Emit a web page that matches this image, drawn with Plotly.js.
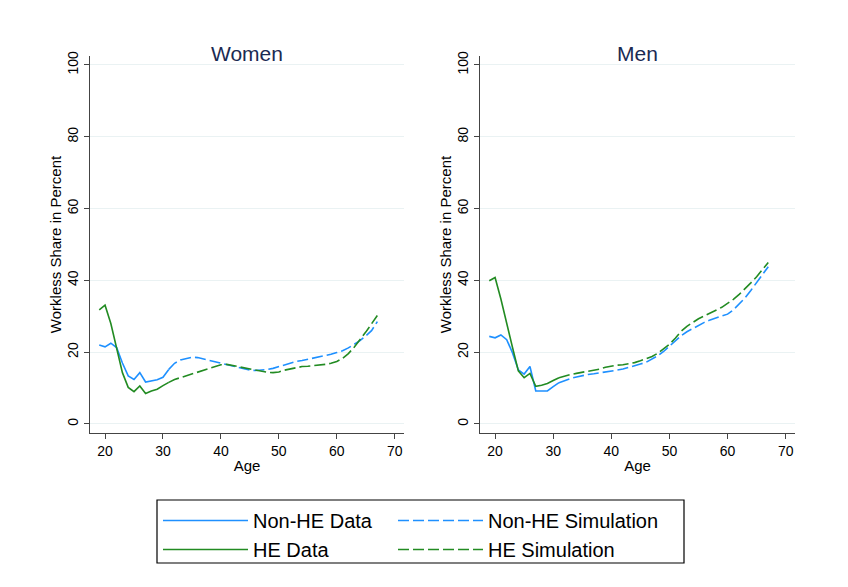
<!DOCTYPE html>
<html>
<head>
<meta charset="utf-8">
<script src="https://cdn.plot.ly/plotly-3.0.1.min.js"></script>
<style>
  html, body { margin: 0; padding: 0; background: #ffffff; }
  #chart { width: 848px; height: 587px; }
</style>
</head>
<body>
<div id="chart"></div>
<script>
// Ages covered by the observed data and by the model simulation
const ageData = [19, 20, 21, 22, 23, 24, 25, 26, 27, 28, 29, 30, 31];
const ageSim = [31, 32, 33, 34, 35, 36, 37, 38, 39, 40, 41, 42, 43, 44, 45, 46, 47, 48, 49,
                50, 51, 52, 53, 54, 55, 56, 57, 58, 59, 60, 61, 62, 63, 64, 65, 66, 67];

// Women: workless share in percent
const womenNonHEData = [22.0, 21.5, 22.5, 21.3, 17.0, 13.4, 12.4, 14.3, 11.7, 12.0, 12.3, 13.0, 15.2];
const womenHEData = [31.8, 33.1, 28.0, 21.5, 14.3, 10.2, 9.0, 10.6, 8.5, 9.2, 9.7, 10.7, 11.6];
const womenNonHESim = [15.2, 16.9, 17.8, 18.3, 18.6, 18.5, 18.1, 17.7, 17.4, 16.9, 16.6, 16.2, 15.8,
                       15.3, 15.0, 14.9, 15.0, 15.2, 15.5, 16.0, 16.5, 16.9, 17.4, 17.7, 18.0, 18.4,
                       18.8, 19.1, 19.4, 19.9, 20.4, 21.2, 22.1, 23.2, 24.5, 26.0, 28.5];
const womenHESim = [11.6, 12.4, 12.9, 13.4, 13.9, 14.6, 15.1, 15.6, 16.1, 16.5, 16.6, 16.3, 16.0,
                    15.6, 15.2, 14.9, 14.6, 14.4, 14.3, 14.5, 15.0, 15.4, 15.8, 16.0, 16.1, 16.2,
                    16.4, 16.6, 16.9, 17.4, 18.3, 19.6, 21.4, 23.4, 25.6, 27.9, 30.2];

// Men: workless share in percent
const menNonHEData = [24.4, 24.0, 24.8, 23.5, 19.8, 15.1, 13.9, 16.0, 9.2, 9.2, 9.2, 10.4, 11.5];
const menHEData = [39.9, 40.8, 34.8, 27.8, 21.3, 14.8, 12.9, 14.1, 10.5, 10.8, 11.3, 12.1, 12.9];
const menNonHESim = [11.5, 12.2, 12.7, 13.1, 13.5, 13.8, 14.0, 14.2, 14.4, 14.7, 15.0, 15.3, 15.7,
                     16.2, 16.7, 17.2, 18.0, 19.0, 20.2, 21.6, 23.2, 24.6, 25.7, 26.6, 27.4, 28.3,
                     29.0, 29.5, 30.0, 30.6, 31.8, 33.5, 35.1, 37.2, 39.3, 41.4, 43.8];
const menHESim = [12.9, 13.4, 13.8, 14.1, 14.4, 14.6, 14.9, 15.3, 15.8, 16.2, 16.4, 16.5, 16.7,
                  17.1, 17.6, 18.1, 18.8, 19.7, 20.9, 22.2, 23.9, 25.8, 27.2, 28.3, 29.3, 30.1,
                  31.0, 31.7, 32.5, 33.5, 34.7, 36.1, 37.6, 39.3, 41.0, 43.0, 45.0];

const seriesNames = ['Non-HE Data', 'HE Data', 'Non-HE Simulation', 'HE Simulation'];
const panelTitles = ['Women', 'Men'];
const ageTicks = [20, 30, 40, 50, 60, 70];
const shareTicks = [0, 20, 40, 60, 80, 100];

const BLUE = '#1E90FF';
const GREEN = '#228B22';
const FONT = 'Liberation Sans, Arial, sans-serif';
const SIM_DASH = '11px,4px';

function line(x, y, name, color, dash, xa, ya, show, legend) {
  return {
    type: 'scatter', mode: 'lines', x: x, y: y, name: name,
    xaxis: xa, yaxis: ya, showlegend: show, legend: legend,
    line: { color: color, width: 1.6, dash: dash },
    hoverinfo: 'x+y'
  };
}

const traces = [
  line(ageData, womenNonHEData, seriesNames[0], BLUE, 'solid', 'x', 'y', true, 'legend'),
  line(ageData, womenHEData, seriesNames[1], GREEN, 'solid', 'x', 'y', true, 'legend'),
  line(ageSim, womenNonHESim, seriesNames[2], BLUE, SIM_DASH, 'x', 'y', true, 'legend2'),
  line(ageSim, womenHESim, seriesNames[3], GREEN, SIM_DASH, 'x', 'y', true, 'legend2'),
  line(ageData, menNonHEData, seriesNames[0], BLUE, 'solid', 'x2', 'y2', false, 'legend'),
  line(ageData, menHEData, seriesNames[1], GREEN, 'solid', 'x2', 'y2', false, 'legend'),
  line(ageSim, menNonHESim, seriesNames[2], BLUE, SIM_DASH, 'x2', 'y2', false, 'legend2'),
  line(ageSim, menHESim, seriesNames[3], GREEN, SIM_DASH, 'x2', 'y2', false, 'legend2')
];

function xAxis(domain, anchor) {
  return {
    domain: domain, anchor: anchor, range: [17.4, 71.6],
    tickmode: 'array', tickvals: ageTicks, ticks: 'outside', ticklen: 5,
    tickcolor: '#444', showline: true, linecolor: '#444', linewidth: 1.2,
    showgrid: false, zeroline: false,
    tickfont: { family: FONT, size: 14, color: '#000' },
    title: { text: 'Age', font: { family: FONT, size: 15, color: '#000' }, standoff: 2 }
  };
}
function yAxis(domain, anchor) {
  return {
    domain: domain, anchor: anchor, range: [-2.5, 102.5],
    tickmode: 'array', tickvals: shareTicks, ticks: 'outside', ticklen: 5,
    tickcolor: '#444', showline: true, linecolor: '#444', linewidth: 1.2,
    showgrid: true, gridcolor: '#EAF2F3', gridwidth: 1, zeroline: false,
    tickangle: -90,
    tickfont: { family: FONT, size: 14, color: '#000' },
    title: { text: 'Workless Share in Percent', font: { family: FONT, size: 15, color: '#000' }, standoff: 0 }
  };
}

const legendStyle = {
  orientation: 'v', xanchor: 'left', yanchor: 'top',
  bgcolor: 'rgba(0,0,0,0)', borderwidth: 0, itemwidth: 85,
  font: { family: FONT, size: 20, color: '#000' }, tracegroupgap: 0
};

const layout = {
  width: 848, height: 587,
  margin: { l: 0, r: 0, t: 0, b: 0 },
  paper_bgcolor: '#ffffff', plot_bgcolor: '#ffffff',
  xaxis: xAxis([0.1061, 0.4764], 'y'),
  yaxis: yAxis([0.2624, 0.9046], 'x'),
  xaxis2: xAxis([0.566, 0.9375], 'y2'),
  yaxis2: yAxis([0.2624, 0.9046], 'x2'),
  legend: Object.assign({ x: 158 / 848, y: 1 - 501 / 587 }, legendStyle),
  legend2: Object.assign({ x: 393 / 848, y: 1 - 501 / 587 }, legendStyle),
  annotations: [
    { text: panelTitles[0], xref: 'x domain', yref: 'paper', x: 0.5, y: 1 - 40 / 587,
      showarrow: false, font: { family: FONT, size: 21, color: '#1a2a52' } },
    { text: panelTitles[1], xref: 'x2 domain', yref: 'paper', x: 0.5, y: 1 - 40 / 587,
      showarrow: false, font: { family: FONT, size: 21, color: '#1a2a52' } }
  ],
  shapes: [
    { type: 'rect', xref: 'paper', yref: 'paper',
      x0: 157 / 848, x1: 684 / 848, y0: 1 - 563 / 587, y1: 1 - 500 / 587,
      line: { color: '#000', width: 1.2 }, fillcolor: 'rgba(0,0,0,0)' }
  ]
};

Plotly.newPlot('chart', traces, layout, { displayModeBar: false, staticPlot: true });
</script>
</body>
</html>
